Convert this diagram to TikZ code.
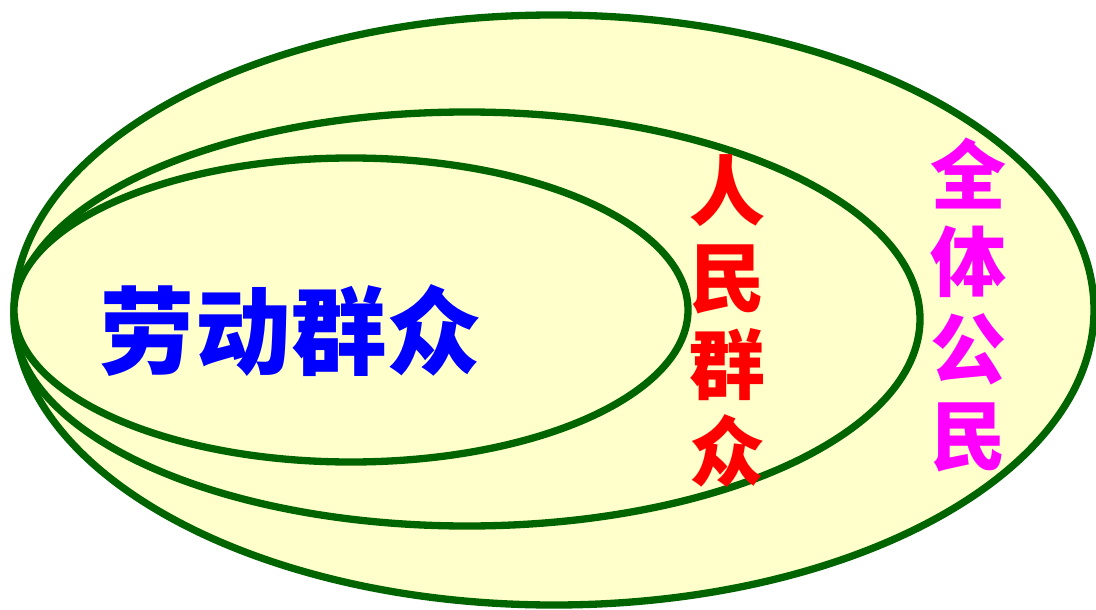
\documentclass[tikz,border=0pt]{standalone}
\usepackage{fontspec}
\newfontfamily\cjk{Noto Sans CJK SC}
\usepackage{tikz}
\usetikzlibrary{positioning}
\definecolor{forestline}{RGB}{0, 100, 0}
\definecolor{paleyellow}{RGB}{255, 255, 204}
\definecolor{labourblue}{RGB}{0, 0, 255}
\definecolor{peoplered}{RGB}{255, 0, 0}
\definecolor{citizenmagenta}{RGB}{255, 0, 255}

\begin{document}
\begin{tikzpicture}[x=0.025cm, y=-0.025cm,
        setline/.style={draw=forestline, fill=paleyellow, line width=5.2pt},
        biglabel/.style={font=\cjk\bfseries\fontsize{68}{72}\selectfont, inner sep=0pt},
        columnlabel/.style={font=\cjk\bfseries\fontsize{54}{62}\selectfont, align=center, inner sep=0pt}]
            % Frame to ensure alignment:
            \useasboundingbox                                                 (0, 0) rectangle (1096, 610);
            % All citizens
            \draw[setline]                                                    (554, 310) ellipse (540 and 295);
            % The people
            \draw[setline]                                                    (467, 319) ellipse (453 and 207);
            % Working masses
            \draw[setline]                                                    (351, 310) ellipse (337 and 152);
            % Labels
            \node[biglabel, text=labourblue]       (labour)                   at (291, 331) {劳动群众};
            \node[columnlabel, text=peoplered]     (people)                   at (727, 321) {人\\民\\群\\众};
            \node[columnlabel, text=citizenmagenta] (citizens)                at (968, 305) {全\\体\\公\\民};
        \end{tikzpicture}
\end{document}
